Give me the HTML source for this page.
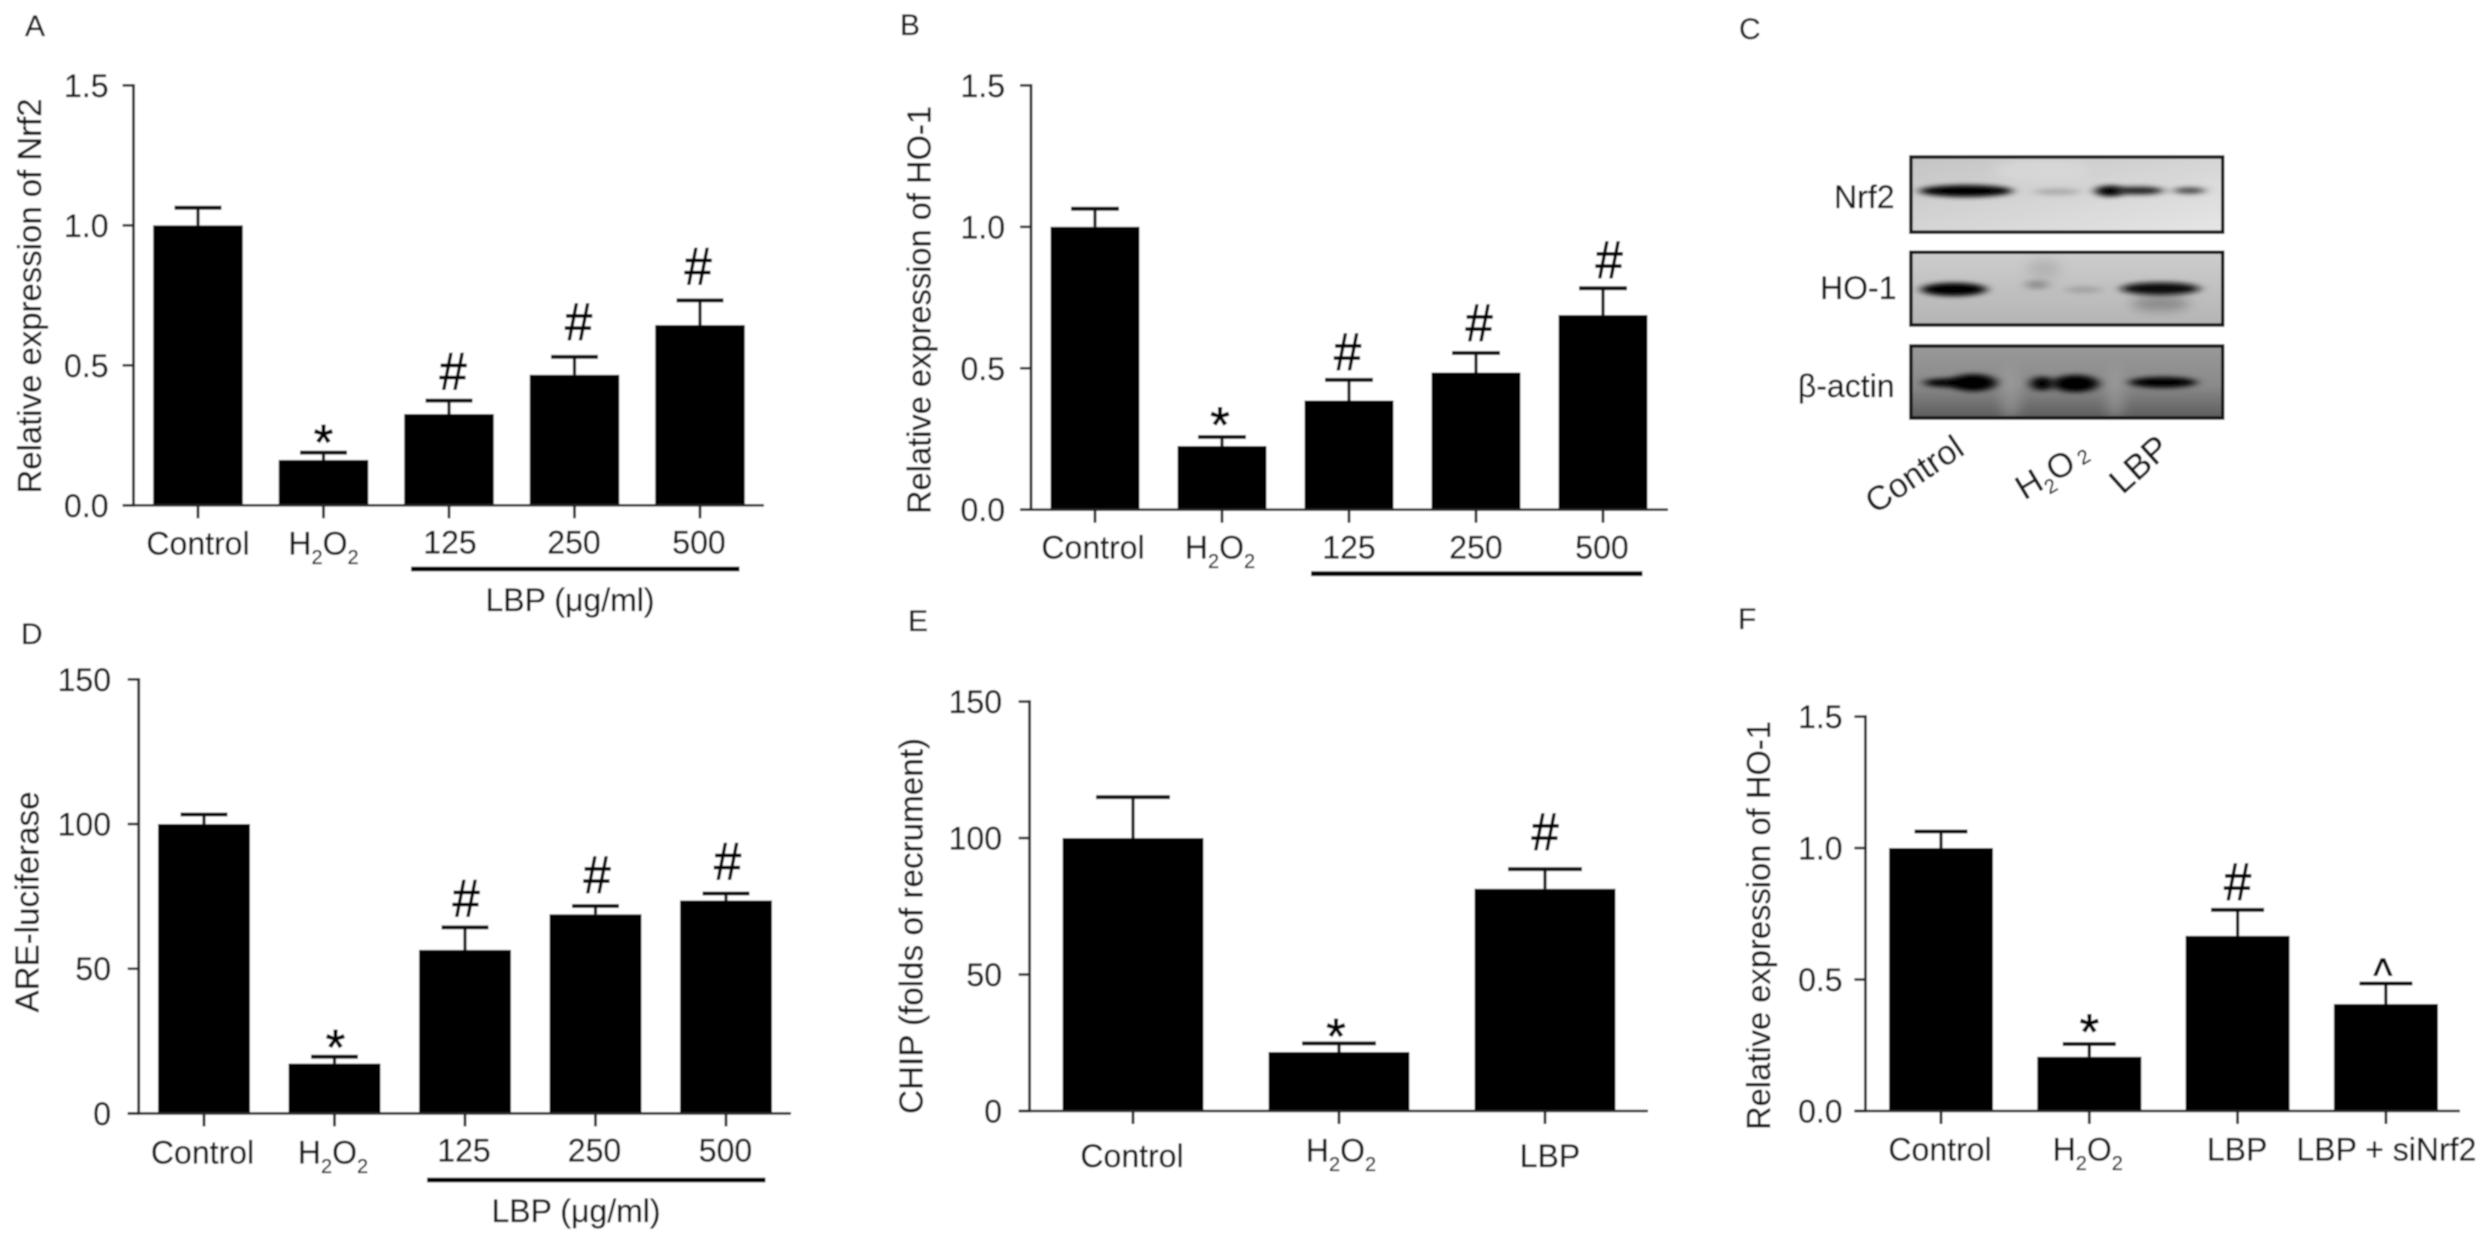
<!DOCTYPE html>
<html lang="en">
<head>
<meta charset="utf-8">
<title>Nrf2 / HO-1 expression figure</title>
<style>
html,body{margin:0;padding:0;background:#fff;width:2492px;height:1241px;overflow:hidden}
svg{display:block}
text{font-family:"Liberation Sans",sans-serif;fill:#161616;stroke:#161616;stroke-width:.3}
</style>
</head>
<body>
<svg id="figure" xmlns="http://www.w3.org/2000/svg" width="2492" height="1241" viewBox="0 0 2492 1241">
  <defs>
    <filter id="soft" x="-2%" y="-2%" width="104%" height="104%"><feGaussianBlur stdDeviation="0.8"/></filter>
    <filter id="b3" x="-40%" y="-120%" width="180%" height="340%"><feGaussianBlur stdDeviation="10 6"/></filter>
    <filter id="b6" x="-60%" y="-60%" width="220%" height="220%"><feGaussianBlur stdDeviation="12"/></filter>
    <clipPath id="c1"><rect x="474" y="397" width="589" height="190"/></clipPath>
    <clipPath id="c2"><rect x="474" y="638" width="589" height="184"/></clipPath>
    <clipPath id="c3"><rect x="474" y="875" width="589" height="182"/></clipPath>
    <linearGradient id="g1" x1="0" y1="0" x2="1" y2="1"><stop offset="0" stop-color="#c4c4c4"/><stop offset="1" stop-color="#e6e6e6"/></linearGradient>
    <linearGradient id="g2" x1="0" y1="0" x2="0" y2="1"><stop offset="0" stop-color="#cdcdcd"/><stop offset="1" stop-color="#b4b4b4"/></linearGradient>
    <linearGradient id="g3" x1="0" y1="0" x2="0" y2="1"><stop offset="0" stop-color="#999"/><stop offset=".55" stop-color="#8a8a8a"/><stop offset="1" stop-color="#5c5c5c"/></linearGradient>
  </defs>
  <g id="root" filter="url(#soft)">
    <rect x="0" y="0" width="2492" height="1241" fill="#fff"/>
    <text x="25" y="36" font-size="30">A</text>
    <text x="900" y="35" font-size="30">B</text>
    <text x="1739" y="39" font-size="30">C</text>
    <text x="21" y="644" font-size="30">D</text>
    <text x="908" y="631" font-size="30">E</text>
    <text x="1738" y="629" font-size="30">F</text>

    <g id="blot">
      <g transform="translate(1660,0) scale(0.5294,0.3954)">
        <g clip-path="url(#c1)">
          <rect x="474" y="397" width="589" height="190" fill="url(#g1)"/>
          <ellipse cx="720" cy="430" rx="90" ry="30" fill="#ddd" opacity=".6" filter="url(#b6)"/>
          <ellipse cx="578" cy="483" rx="88" ry="15" fill="#000" filter="url(#b3)"/>
          <ellipse cx="750" cy="485" rx="45" ry="8" fill="#aaa" filter="url(#b3)"/>
          <ellipse cx="850" cy="483" rx="28" ry="14" fill="#000" filter="url(#b3)"/>
          <ellipse cx="905" cy="482" rx="46" ry="10" fill="#222" filter="url(#b3)"/>
          <ellipse cx="1000" cy="482" rx="30" ry="8" fill="#444" filter="url(#b3)"/>
        </g>
        <rect x="474" y="397" width="589" height="190" fill="none" stroke="#151515" stroke-width="3.5" vector-effect="non-scaling-stroke"/>
        <g clip-path="url(#c2)">
          <rect x="474" y="638" width="589" height="184" fill="url(#g2)"/>
          <ellipse cx="725" cy="680" rx="30" ry="26" fill="#aaa" opacity=".7" filter="url(#b6)"/>
          <ellipse cx="945" cy="768" rx="55" ry="18" fill="#888" filter="url(#b6)"/>
          <ellipse cx="555" cy="732" rx="62" ry="17" fill="#000" filter="url(#b3)"/>
          <ellipse cx="712" cy="720" rx="22" ry="12" fill="#909090" filter="url(#b3)"/>
          <ellipse cx="800" cy="733" rx="36" ry="8" fill="#a0a0a0" filter="url(#b3)"/>
          <ellipse cx="945" cy="730" rx="74" ry="16" fill="#111" filter="url(#b3)"/>
        </g>
        <rect x="474" y="638" width="589" height="184" fill="none" stroke="#151515" stroke-width="3.5" vector-effect="non-scaling-stroke"/>
        <g clip-path="url(#c3)">
          <rect x="474" y="875" width="589" height="182" fill="url(#g3)"/>
          <ellipse cx="662" cy="990" rx="20" ry="70" fill="#a0a0a0" opacity=".6" filter="url(#b6)"/>
          <ellipse cx="860" cy="990" rx="18" ry="70" fill="#a0a0a0" opacity=".6" filter="url(#b6)"/>
          <ellipse cx="540" cy="968" rx="42" ry="11" fill="#000" filter="url(#b3)"/>
          <ellipse cx="592" cy="968" rx="44" ry="22" fill="#000" filter="url(#b3)"/>
          <ellipse cx="722" cy="970" rx="22" ry="18" fill="#000" filter="url(#b3)"/>
          <ellipse cx="785" cy="970" rx="44" ry="22" fill="#000" filter="url(#b3)"/>
          <ellipse cx="950" cy="967" rx="64" ry="14" fill="#050505" filter="url(#b3)"/>
        </g>
        <rect x="474" y="875" width="589" height="182" fill="none" stroke="#151515" stroke-width="3.5" vector-effect="non-scaling-stroke"/>
      </g>
      <text x="1894.5" y="208" text-anchor="end" font-size="32">Nrf2</text>
      <text x="1896.5" y="299" text-anchor="end" font-size="32">HO-1</text>
      <text x="1894.5" y="397" text-anchor="end" font-size="32">β-actin</text>
      <text transform="translate(1914,474) rotate(-34)" text-anchor="middle" dy=".35em" font-size="34">Control</text>
      <text transform="translate(2052,470) rotate(-31)" text-anchor="middle" dy=".35em" font-size="34">H<tspan font-size="20" dy="8">2</tspan><tspan dy="-8">O</tspan><tspan font-size="20" dy="0"> 2</tspan></text>
      <text transform="translate(2139,464) rotate(-42)" text-anchor="middle" dy=".35em" font-size="35">LBP</text>
    </g>
    <g id="charts"></g>
  </g>
</svg>
<script>
// ---- Chart data ----
const aCategories = ['Control', 'H2O2', '125', '250', '500'];
const aValues = [1.0, 0.162, 0.326, 0.466, 0.644];
const aErrors = [0.063, 0.026, 0.048, 0.064, 0.088];
const aMarks = ['', '*', '#', '#', '#'];
const aTickLabels = ['0.0', '0.5', '1.0', '1.5'];

const bCategories = ['Control', 'H2O2', '125', '250', '500'];
const bValues = [1.0, 0.225, 0.386, 0.485, 0.688];
const bErrors = [0.064, 0.032, 0.073, 0.069, 0.095];
const bMarks = ['', '*', '#', '#', '#'];
const bTickLabels = ['0.0', '0.5', '1.0', '1.5'];

const dCategories = ['Control', 'H2O2', '125', '250', '500'];
const dValues = [100, 17.2, 56.5, 68.8, 73.6];
const dErrors = [3.3, 2.4, 7.8, 2.9, 2.4];
const dMarks = ['', '*', '#', '#', '#'];
const dTickLabels = ['0', '50', '100', '150'];

const eCategories = ['Control', 'H2O2', 'LBP'];
const eValues = [100, 21.6, 81.4];
const eErrors = [15, 3.2, 7.2];
const eMarks = ['', '*', '#'];
const eTickLabels = ['0', '50', '100', '150'];

const fCategories = ['Control', 'H2O2', 'LBP', 'LBP + siNrf2'];
const fValues = [1.0, 0.206, 0.666, 0.407];
const fErrors = [0.063, 0.049, 0.099, 0.078];
const fMarks = ['', '*', '#', '^'];
const fTickLabels = ['0.0', '0.5', '1.0', '1.5'];

// ---- Layout ----
const NS = 'http://www.w3.org/2000/svg';
const host = document.getElementById('charts');
const INK = '#262626';

function mk(parent, tag, attrs, txt) {
  const el = document.createElementNS(NS, tag);
  for (const k in attrs) el.setAttribute(k, attrs[k]);
  if (txt !== undefined) el.textContent = txt;
  parent.appendChild(el);
  return el;
}

function drawPanel(p) {
  const g = mk(host, 'g', {});
  
  

  const tickVals = p.tickLabels.map(Number);
  const yMax = Math.max.apply(null, tickVals);
  const y = function (v) { return p.y0 - (v / yMax) * (p.y0 - p.yTop); };
  const x = function (i) { return p.x0 + i * p.step; };

  // bars and error bars
  p.values.forEach(function (v, i) {
    const top = y(v + p.errors[i]);
    const stem = mk(g, 'line', { x1: x(i), x2: x(i), y1: y(v), y2: top, stroke: '#111', 'stroke-width': 3.2 });
    
    
    const cap = mk(g, 'line', { x1: x(i) - p.capW / 2, x2: x(i) + p.capW / 2, y1: top, y2: top, stroke: '#111', 'stroke-width': 4 });
    
    
    const bar = mk(g, 'rect', { x: x(i) - p.barW / 2, y: y(v), width: p.barW, height: p.y0 - y(v), fill: '#000' });
    
    

    const m = p.marks[i];
    if (m) {
      const dx = x(i) + p.markDx[i];
      const gap = p.markGap[i];
      let by, fs, sx;
      if (m === '*') { fs = 50; sx = 1; by = top + 21 - gap; }
      else if (m === '^') { fs = 46; sx = .87; by = top + 15.6 - gap; }
      else { fs = 53; sx = .92; by = top - gap; }
      const t = mk(g, 'text', { transform: 'translate(' + dx + ',' + by + ') scale(' + sx + ',1)', 'text-anchor': 'middle', 'font-size': fs, style: 'fill:#000;stroke:#000;stroke-width:.9' }, m);
      
      
    }
  });

  // axes
  const yAxis = mk(g, 'line', { x1: p.axisX, x2: p.axisX, y1: p.yTop - 1.3, y2: p.y0 + 1.3, stroke: INK, 'stroke-width': 2.8 });
  
  
  const xAxis = mk(g, 'line', { x1: p.axisX - 11, x2: p.xEnd, y1: p.y0, y2: p.y0, stroke: INK, 'stroke-width': 2.6 });
  
  

  // y ticks
  p.tickLabels.forEach(function (lab, i) {
    const ty = y(tickVals[i]);
    const tk = mk(g, 'line', { x1: p.axisX - 11, x2: p.axisX, y1: ty, y2: ty, stroke: INK, 'stroke-width': 2.6 });
    
    
    const tx = mk(g, 'text', { x: p.tickRight, y: ty + 11.5, 'text-anchor': 'end', 'font-size': 32 }, lab);
    
    
  });

  // x ticks and labels
  p.categories.forEach(function (c, i) {
    const tk = mk(g, 'line', { x1: x(i), x2: x(i), y1: p.y0, y2: p.y0 + 13, stroke: INK, 'stroke-width': 2.8 });
    
    
    const t = mk(g, 'text', { x: x(i) + p.labelDx[i], y: p.y0 + p.labelDy[i], 'text-anchor': 'middle', 'font-size': 32 });
    
    
    if (c === 'H2O2') {
      mk(t, 'tspan', {}, 'H');
      mk(t, 'tspan', { 'font-size': 20, dy: 9.5 }, '2');
      mk(t, 'tspan', { dy: -9.5 }, 'O');
      mk(t, 'tspan', { 'font-size': 20, dy: 9.5 }, '2');
    } else {
      t.textContent = c;
    }
  });

  // y title
  const title = mk(g, 'text', {
    transform: 'translate(' + p.titleX + ',' + p.titleCy + ') rotate(-90)',
    'text-anchor': 'middle', 'font-size': 33,
    textLength: p.titleLen, lengthAdjust: 'spacingAndGlyphs'
  }, p.title);
  
  

  // dose group underline
  if (p.groupY) {
    const u = mk(g, 'line', { x1: x(2) - 38, x2: x(4) + 39.5, y1: p.groupY, y2: p.groupY, stroke: '#000', 'stroke-width': 4.8 });
    
    
  }
  if (p.groupText) {
    const gt = mk(g, 'text', { x: p.groupText[0], y: p.groupText[1], 'text-anchor': 'middle', 'font-size': 32 }, 'LBP (μg/ml)');
    
    
  }
}

drawPanel({
  id: 'a', categories: aCategories, values: aValues, errors: aErrors, marks: aMarks, tickLabels: aTickLabels,
  axisX: 133.5, xEnd: 764, yTop: 85.4, y0: 505.3, x0: 198, step: 125.5, barW: 89.5, capW: 47, tickRight: 108.5,
  title: 'Relative expression of Nrf2', titleX: 41, titleCy: 296, titleLen: 395,
  labelDx: [0, 0, 1, -0.5, -1], labelDy: [49.4, 49.4, 48.3, 48.3, 48.3],
  markDx: [0, 0, 4, 4, -2], markGap: [0, 14, 11, 17, 16], groupY: 569, groupText: [570, 611]
});
drawPanel({
  id: 'b', categories: bCategories, values: bValues, errors: bErrors, marks: bMarks, tickLabels: bTickLabels,
  axisX: 1031, xEnd: 1668, yTop: 85.4, y0: 509.7, x0: 1095, step: 127, barW: 89, capW: 48, tickRight: 1005,
  title: 'Relative expression of HO-1', titleX: 930.5, titleCy: 310, titleLen: 408,
  labelDx: [-2, -2, 0, 0, -1], labelDy: [49, 49, 49, 49, 49],
  markDx: [0, -2, -1.5, 3, 6], markGap: [0, 16, 10, 12, 10], groupY: 573.7
});
drawPanel({
  id: 'd', categories: dCategories, values: dValues, errors: dErrors, marks: dMarks, tickLabels: dTickLabels,
  axisX: 138.7, xEnd: 791, yTop: 679.4, y0: 1113.4, x0: 204, step: 130.5, barW: 92, capW: 47, tickRight: 111,
  title: 'ARE-luciferase', titleX: 38.6, titleCy: 902, titleLen: 221,
  labelDx: [-1.5, -1.5, -1, -1, -0.5], labelDy: [49.9, 49.9, 48.3, 48.3, 48.3],
  markDx: [0, 1, 1, 1.5, 1.5], markGap: [0, 13, 11, 13, 14], groupY: 1180, groupText: [576, 1222]
});
drawPanel({
  id: 'e', categories: eCategories, values: eValues, errors: eErrors, marks: eMarks, tickLabels: eTickLabels,
  axisX: 1029.6, xEnd: 1648, yTop: 701.6, y0: 1111, x0: 1133, step: 206, barW: 141, capW: 74, tickRight: 1002,
  title: 'CHIP (folds of recrument)', titleX: 922.6, titleCy: 926, titleLen: 376,
  labelDx: [-1, 2, 5], labelDy: [56, 50.7, 56],
  markDx: [0, -3, 0], markGap: [0, 11, 19]
});
drawPanel({
  id: 'f', categories: fCategories, values: fValues, errors: fErrors, marks: fMarks, tickLabels: fTickLabels,
  axisX: 1865.4, xEnd: 2460, yTop: 716.6, y0: 1111, x0: 1941, step: 148.3, barW: 104, capW: 53, tickRight: 1842.6,
  title: 'Relative expression of HO-1', titleX: 1770, titleCy: 925.5, titleLen: 409,
  labelDx: [-1, -1.5, -0.5, 0.5], labelDy: [49.5, 49.5, 49.5, 49.5],
  markDx: [0, 0, 0, -3], markGap: [0, 16, 10, 8]
});
</script>
</body>
</html>
